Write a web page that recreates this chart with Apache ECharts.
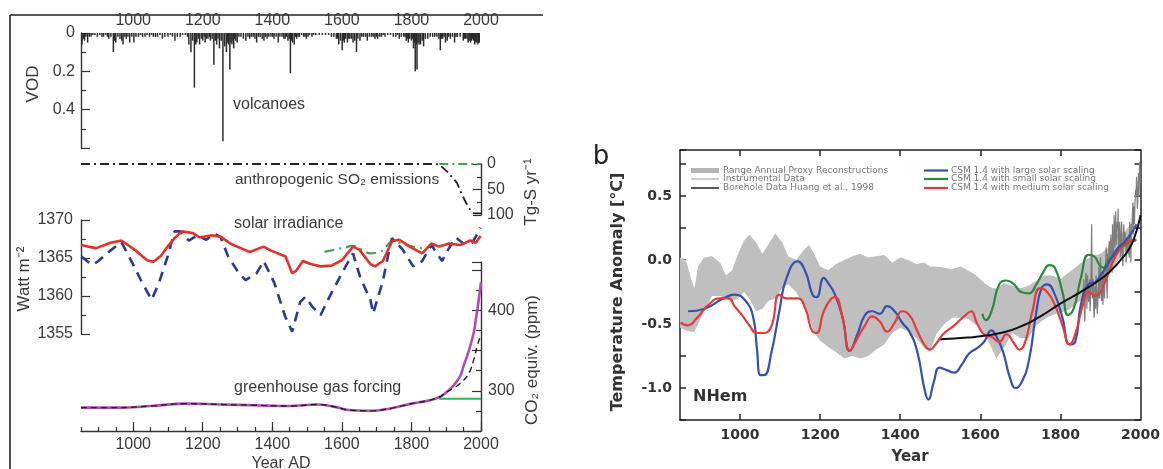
<!DOCTYPE html>
<html><head><meta charset="utf-8">
<script src="https://cdn.jsdelivr.net/npm/echarts@6.0.0/dist/echarts.min.js"></script>
<style>html,body{margin:0;padding:0;background:#fff}#c{width:1163px;height:469px}</style>
</head><body><div id="c"></div>
<script>
// ---------- Panel a data ----------
const yearTicks = [1000, 1200, 1400, 1600, 1800, 2000];
const vodTicks = [0, 0.2, 0.4];
const volcanoes = [[853,0.06],[857,0.03],[860,0.04],[864,0.02],[869,0.05],[874,0.02],[879,0.02],[884,0.01],[890,0.01],[897,0.02],[904,0.01],[910,0.02],[915,0.02],[921,0.01],[926,0.02],[930,0.03],[936,0.02],[943,0.10],[947,0.04],[950,0.05],[956,0.02],[962,0.03],[967,0.04],[971,0.06],[976,0.02],[980,0.03],[985,0.02],[990,0.05],[996,0.02],[1002,0.05],[1008,0.02],[1015,0.02],[1021,0.01],[1027,0.02],[1034,0.02],[1040,0.01],[1047,0.02],[1053,0.01],[1058,0.02],[1064,0.02],[1070,0.02],[1077,0.01],[1084,0.03],[1091,0.02],[1100,0.02],[1107,0.01],[1113,0.02],[1120,0.04],[1127,0.02],[1135,0.02],[1142,0.01],[1150,0.01],[1156,0.02],[1160,0.06],[1166,0.10],[1171,0.04],[1176,0.285],[1180,0.06],[1183,0.05],[1187,0.03],[1191,0.06],[1196,0.03],[1200,0.04],[1204,0.02],[1207,0.05],[1211,0.03],[1215,0.03],[1219,0.02],[1222,0.04],[1227,0.03],[1232,0.165],[1236,0.04],[1240,0.06],[1244,0.03],[1248,0.08],[1253,0.04],[1258,0.565],[1263,0.07],[1268,0.10],[1271,0.05],[1274,0.06],[1278,0.19],[1281,0.05],[1284,0.06],[1287,0.04],[1289,0.08],[1292,0.03],[1295,0.04],[1299,0.05],[1304,0.02],[1310,0.02],[1317,0.03],[1324,0.04],[1330,0.02],[1335,0.03],[1340,0.02],[1345,0.02],[1350,0.03],[1355,0.05],[1360,0.02],[1365,0.02],[1371,0.03],[1376,0.04],[1380,0.02],[1385,0.03],[1390,0.02],[1396,0.02],[1401,0.02],[1405,0.03],[1411,0.02],[1417,0.05],[1422,0.02],[1428,0.02],[1433,0.03],[1437,0.03],[1441,0.02],[1445,0.04],[1449,0.03],[1452,0.21],[1455,0.04],[1458,0.05],[1463,0.06],[1467,0.02],[1470,0.03],[1474,0.02],[1478,0.02],[1484,0.01],[1490,0.02],[1494,0.02],[1498,0.03],[1503,0.02],[1507,0.01],[1514,0.02],[1519,0.01],[1525,0.01],[1535,0.01],[1544,0.01],[1553,0.01],[1562,0.01],[1570,0.02],[1577,0.02],[1584,0.03],[1588,0.03],[1591,0.06],[1596,0.04],[1601,0.09],[1604,0.04],[1607,0.05],[1611,0.03],[1616,0.05],[1620,0.03],[1623,0.03],[1628,0.03],[1632,0.05],[1637,0.04],[1642,0.10],[1646,0.03],[1652,0.04],[1657,0.02],[1662,0.02],[1668,0.02],[1673,0.04],[1679,0.02],[1685,0.02],[1690,0.02],[1695,0.03],[1699,0.02],[1703,0.03],[1709,0.02],[1714,0.02],[1719,0.01],[1724,0.02],[1732,0.01],[1740,0.01],[1748,0.02],[1755,0.02],[1760,0.01],[1765,0.03],[1771,0.02],[1778,0.02],[1782,0.02],[1785,0.04],[1788,0.03],[1791,0.05],[1795,0.03],[1800,0.04],[1803,0.03],[1806,0.08],[1809,0.05],[1811,0.20],[1814,0.06],[1816,0.19],[1819,0.05],[1822,0.06],[1826,0.06],[1831,0.04],[1835,0.07],[1840,0.03],[1847,0.03],[1854,0.02],[1861,0.02],[1867,0.02],[1873,0.02],[1879,0.03],[1883,0.09],[1886,0.03],[1890,0.03],[1894,0.02],[1898,0.05],[1903,0.04],[1907,0.02],[1912,0.03],[1918,0.02],[1924,0.05],[1928,0.02],[1932,0.02],[1940,0.02],[1949,0.04],[1953,0.03],[1956,0.03],[1960,0.03],[1963,0.05],[1966,0.04],[1970,0.05],[1973,0.04],[1976,0.03],[1979,0.04],[1982,0.06],[1985,0.05],[1988,0.05],[1991,0.06],[1993,0.05],[1995,0.05]];
const so2Ticks = [0, 50, 100];
const so2Anthro = [[850,0],[1870,0],[1880,1],[1903,15],[1931,37],[1946,61],[1960,80],[1971,92],[1980,97],[2000,97]];
const so2Natural = [[1880,0],[2000,0]];
const solarTicks = [1355, 1360, 1365, 1370];
const solarRed = [[851,1366.7],[870,1366.5],[894,1366.3],[935,1367.0],[966,1367.3],[1007,1366.0],[1040,1364.7],[1058,1364.5],[1080,1365.3],[1099,1366.5],[1119,1367.6],[1140,1368.5],[1171,1368.3],[1191,1367.7],[1225,1368.0],[1252,1367.8],[1283,1366.8],[1335,1365.8],[1375,1366.5],[1395,1366.0],[1438,1365.2],[1457,1363.0],[1468,1363.3],[1488,1364.6],[1510,1364.2],[1539,1363.9],[1570,1364.0],[1600,1364.7],[1632,1366.5],[1650,1366.1],[1682,1364.2],[1695,1363.9],[1718,1364.6],[1744,1367.2],[1765,1367.4],[1795,1366.5],[1831,1365.6],[1857,1366.9],[1880,1366.5],[1908,1366.9],[1940,1366.7],[1969,1367.3],[1985,1367.0],[1999,1367.9]];
const solarBlue = [[851,1365.2],[870,1364.5],[884,1364.1],[900,1364.6],[935,1366.0],[966,1367.1],[996,1364.5],[1022,1362.1],[1053,1359.5],[1074,1361.7],[1099,1365.2],[1119,1368.5],[1135,1368.5],[1160,1367.3],[1185,1368.0],[1210,1367.4],[1235,1368.2],[1252,1367.7],[1273,1365.2],[1304,1363.0],[1323,1362.1],[1355,1363.0],[1375,1364.6],[1406,1361.7],[1437,1357.3],[1457,1355.3],[1480,1359.2],[1495,1359.9],[1515,1358.6],[1539,1357.5],[1560,1359.5],[1600,1363.0],[1632,1365.6],[1653,1362.4],[1682,1359.5],[1690,1357.7],[1718,1362.0],[1734,1365.6],[1744,1367.6],[1775,1366.1],[1805,1363.9],[1831,1364.6],[1857,1366.7],[1888,1364.6],[1908,1366.3],[1928,1367.7],[1949,1366.9],[1975,1367.0],[1999,1369.0]];
const solarGreen = [[1550,1365.8],[1600,1366.3],[1632,1366.6],[1682,1365.6],[1718,1366.0],[1744,1367.2],[1795,1366.6],[1830,1366.3],[1857,1366.5],[1875,1366.8]];
const co2Ticks = [300, 400];
const ghgTotal = [[850,279],[950,279],[1050,281],[1150,284],[1250,283],[1350,282],[1450,281],[1530,283],[1580,280],[1620,276],[1680,275],[1740,278],[1800,284],[1850,288],[1880,292],[1900,298],[1920,306],[1940,318],[1950,331],[1960,343],[1970,357],[1980,374],[1985,388],[1990,402],[2000,435]];
const ghgCO2 = [[850,279],[950,279],[1050,281],[1150,284],[1250,283],[1350,282],[1450,281],[1530,283],[1580,280],[1620,276],[1680,275],[1740,278],[1800,284],[1850,288],[1880,292],[1900,298],[1920,303],[1940,309],[1960,318],[1970,326],[1980,340],[1990,357],[2000,370]];
const ghgConst = [[1880,290],[2000,290]];

// ---------- Panel b data ----------
const tempTicks = [-1.0, -0.5, 0.0, 0.5];
const yearTicksB = [1000, 1200, 1400, 1600, 1800, 2000];
const bandYears = [850,865,878,886,895,910,930,950,965,980,995,1010,1023,1040,1056,1070,1088,1105,1120,1140,1160,1172,1185,1200,1220,1240,1260,1280,1300,1320,1340,1360,1380,1400,1420,1440,1460,1475,1490,1510,1530,1550,1570,1590,1610,1630,1640,1660,1680,1700,1720,1740,1760,1780,1800,1820,1840,1860,1880,1900,1920,1940,1960,1980];
const bandHigh = [0.02,0.0,-0.15,-0.22,-0.05,0.02,0.03,-0.02,-0.12,-0.08,0.05,0.15,0.20,0.14,0.05,0.12,0.21,0.14,0.03,0.0,0.08,0.12,0.05,-0.05,-0.08,-0.03,0.0,0.03,0.05,0.02,0.03,0.04,-0.02,0.02,0.0,-0.03,-0.02,-0.05,-0.05,-0.06,-0.07,-0.05,-0.08,-0.12,-0.18,-0.22,-0.22,-0.18,-0.2,-0.22,-0.2,-0.16,-0.12,-0.12,-0.15,-0.1,-0.05,0.0,0.03,0.05,0.1,0.2,0.22,0.3];
const bandLow = [-0.53,-0.55,-0.56,-0.56,-0.50,-0.40,-0.28,-0.28,-0.30,-0.32,-0.30,-0.25,-0.30,-0.40,-0.38,-0.32,-0.30,-0.22,-0.19,-0.25,-0.36,-0.45,-0.57,-0.63,-0.68,-0.72,-0.77,-0.75,-0.77,-0.75,-0.70,-0.66,-0.57,-0.53,-0.56,-0.61,-0.69,-0.71,-0.58,-0.50,-0.45,-0.45,-0.46,-0.51,-0.57,-0.70,-0.77,-0.68,-0.57,-0.61,-0.61,-0.51,-0.46,-0.43,-0.41,-0.39,-0.34,-0.30,-0.26,-0.20,-0.13,-0.02,0.06,0.15];
const instrumental = [[1856,-0.35],[1857,-0.28],[1858,-0.15],[1859,-0.22],[1860,-0.42],[1861,-0.48],[1862,-0.30],[1863,-0.12],[1864,-0.10],[1865,-0.20],[1866,-0.38],[1867,-0.18],[1868,-0.12],[1869,-0.25],[1870,-0.33],[1871,-0.28],[1872,-0.20],[1873,-0.15],[1874,-0.40],[1875,-0.32],[1876,-0.25],[1877,0.05],[1878,0.28],[1879,-0.10],[1880,-0.30],[1881,-0.22],[1882,-0.15],[1883,-0.35],[1884,-0.45],[1885,-0.40],[1886,-0.20],[1887,-0.30],[1888,-0.38],[1889,-0.12],[1890,-0.18],[1891,-0.28],[1892,-0.42],[1893,-0.35],[1894,-0.22],[1895,-0.30],[1896,-0.05],[1897,-0.12],[1898,-0.30],[1899,-0.10],[1900,0.02],[1901,-0.08],[1902,-0.28],[1903,-0.32],[1904,-0.10],[1905,-0.20],[1906,-0.35],[1907,-0.25],[1908,-0.05],[1909,-0.22],[1910,-0.30],[1911,-0.18],[1912,-0.08],[1913,-0.02],[1914,0.10],[1915,0.05],[1916,-0.22],[1917,-0.30],[1918,0.05],[1919,-0.05],[1920,-0.12],[1921,0.10],[1922,0.15],[1923,0.02],[1924,-0.05],[1925,0.12],[1926,0.20],[1927,0.08],[1928,0.02],[1929,-0.10],[1930,0.28],[1931,0.18],[1932,0.05],[1933,-0.02],[1934,0.35],[1935,0.15],[1936,0.10],[1937,0.25],[1938,0.38],[1939,0.20],[1940,0.12],[1941,0.22],[1942,0.30],[1943,0.25],[1944,0.40],[1945,0.18],[1946,0.08],[1947,0.20],[1948,0.30],[1949,0.12],[1950,0.02],[1951,0.15],[1952,0.25],[1953,0.30],[1954,0.05],[1955,0.02],[1956,-0.05],[1957,0.12],[1958,0.28],[1959,0.20],[1960,0.10],[1961,0.22],[1962,0.22],[1963,0.15],[1964,-0.02],[1965,0.02],[1966,0.18],[1967,0.12],[1968,0.05],[1969,0.15],[1970,0.20],[1971,0.05],[1972,0.02],[1973,0.30],[1974,0.12],[1975,0.15],[1976,-0.02],[1977,0.28],[1978,0.25],[1979,0.30],[1980,0.38],[1981,0.45],[1982,0.20],[1983,0.42],[1984,0.35],[1985,0.28],[1986,0.45],[1987,0.48],[1988,0.55],[1989,0.50],[1990,0.65],[1991,0.58],[1992,0.40],[1993,0.45],[1994,0.55],[1995,0.68],[1996,0.50],[1997,0.62],[1998,0.77],[1999,0.65],[2000,0.60]];
const borehole = [[1500,-0.62],[1550,-0.61],[1600,-0.595],[1650,-0.57],[1700,-0.52],[1750,-0.44],[1800,-0.34],[1850,-0.25],[1900,-0.15],[1930,-0.07],[1950,0.0],[1970,0.08],[1985,0.18],[2000,0.35]];
const csmLarge = [[870,-0.40],[912,-0.38],[958,-0.30],[986,-0.27],[1014,-0.32],[1033,-0.45],[1042,-0.69],[1051,-0.90],[1060,-0.90],[1079,-0.71],[1098,-0.40],[1116,-0.14],[1144,-0.01],[1163,-0.09],[1181,-0.27],[1191,-0.29],[1209,-0.14],[1220,-0.18],[1237,-0.27],[1256,-0.45],[1274,-0.71],[1293,-0.58],[1312,-0.43],[1330,-0.40],[1349,-0.42],[1367,-0.36],[1386,-0.40],[1405,-0.49],[1423,-0.56],[1442,-0.71],[1460,-1.0],[1470,-1.09],[1484,-0.95],[1498,-0.84],[1516,-0.86],[1535,-0.88],[1553,-0.82],[1572,-0.73],[1591,-0.69],[1609,-0.64],[1628,-0.55],[1637,-0.58],[1656,-0.71],[1674,-0.92],[1688,-1.0],[1702,-0.96],[1721,-0.79],[1740,-0.40],[1753,-0.22],[1767,-0.19],[1786,-0.27],[1805,-0.45],[1823,-0.66],[1837,-0.64],[1851,-0.35],[1870,-0.19],[1888,-0.17],[1900,-0.12],[1915,-0.05],[1930,0.03],[1945,0.10],[1960,0.14],[1975,0.20],[1990,0.28]];
const csmSmall = [[1605,-0.42],[1614,-0.47],[1628,-0.40],[1647,-0.19],[1665,-0.16],[1684,-0.19],[1702,-0.25],[1721,-0.26],[1740,-0.19],[1758,-0.09],[1772,-0.04],[1786,-0.06],[1805,-0.25],[1819,-0.43],[1833,-0.38],[1851,-0.14],[1870,0.04],[1884,0.03],[1898,-0.04],[1907,-0.06],[1920,0.0],[1935,0.04],[1950,0.10],[1965,0.13],[1980,0.15],[1990,0.16]];
const csmMedium = [[851,-0.49],[870,-0.51],[893,-0.45],[921,-0.35],[949,-0.30],[972,-0.30],[986,-0.36],[1005,-0.43],[1023,-0.51],[1042,-0.57],[1060,-0.57],[1079,-0.51],[1098,-0.27],[1116,-0.30],[1144,-0.30],[1163,-0.38],[1181,-0.56],[1191,-0.57],[1209,-0.40],[1228,-0.30],[1237,-0.29],[1256,-0.45],[1274,-0.71],[1293,-0.61],[1312,-0.51],[1330,-0.44],[1349,-0.48],[1367,-0.56],[1386,-0.49],[1405,-0.40],[1423,-0.43],[1442,-0.55],[1460,-0.66],[1474,-0.70],[1488,-0.66],[1507,-0.58],[1535,-0.51],[1563,-0.43],[1577,-0.40],[1591,-0.49],[1609,-0.58],[1628,-0.60],[1647,-0.64],[1665,-0.58],[1684,-0.65],[1698,-0.70],[1712,-0.64],[1730,-0.40],[1749,-0.22],[1767,-0.25],[1786,-0.35],[1805,-0.51],[1823,-0.66],[1837,-0.58],[1856,-0.35],[1870,-0.25],[1888,-0.28],[1900,-0.25],[1915,-0.14],[1930,-0.02],[1945,0.07],[1960,0.12],[1975,0.15],[1988,0.15]];

// ---------- chart ----------
const FA = '"Liberation Sans",Arial,sans-serif';
const FS = 16;
const FB = '"DejaVu Sans",sans-serif';
const AX = '#333';
const TC = '#3a3a3a';
const chart = echarts.init(document.getElementById('c'), null, {renderer: 'canvas'});
const noSym = {showSymbol: false, symbol: 'none'};
const plain = v => String(v);

const bandSeriesData = bandYears.map((y, i) => [y, bandLow[i], bandHigh[i]]);

const option = {
  animation: false,
  grid: [
    {left: 81, width: 400, top: 33, height: 115},
    {left: 81, width: 400, top: 164, height: 51},
    {left: 81, width: 400, top: 220, height: 114},
    {left: 81, width: 400, top: 262, height: 169},
    {left: 680, width: 461, top: 150, height: 270}
  ],
  xAxis: [
    {gridIndex: 0, type: 'value', position: 'top', min: 850, max: 2000, interval: 50, splitLine: {show: false},
      axisLine: {show: false}, axisTick: {show: false},
      axisLabel: {customValues: yearTicks, margin: 4, fontFamily: FA, fontSize: FS, color: TC, formatter: plain}},
    {gridIndex: 1, type: 'value', min: 850, max: 2000, show: false},
    {gridIndex: 2, type: 'value', min: 850, max: 2000, show: false},
    {gridIndex: 3, type: 'value', position: 'bottom', min: 850, max: 2000, interval: 50, splitLine: {show: false},
      axisLine: {show: true, lineStyle: {color: AX, width: 1.4}},
      axisTick: {show: true, inside: true, length: 4, lineStyle: {color: AX, width: 1.2}},
      axisLabel: {customValues: yearTicks, margin: 6, fontFamily: FA, fontSize: FS, color: TC, formatter: plain}},
    {gridIndex: 3, type: 'value', position: 'bottom', min: 850, max: 2000, splitLine: {show: false},
      axisLine: {show: false}, axisLabel: {show: false},
      axisTick: {show: true, inside: true, length: 9, customValues: yearTicks, lineStyle: {color: AX, width: 1.2}}},
    {gridIndex: 4, type: 'value', position: 'bottom', min: 850, max: 2000, splitLine: {show: false},
      axisLine: {show: true, onZero: false, lineStyle: {color: '#222', width: 1.5}},
      axisTick: {show: true, inside: true, length: 6, customValues: [1000, 1200, 1400, 1600, 1800], lineStyle: {color: '#222', width: 1.5}},
      axisLabel: {customValues: yearTicksB, margin: 8, fontFamily: FB, fontWeight: 'bold', fontSize: 14, color: '#333', formatter: plain}},
    {gridIndex: 4, type: 'value', position: 'top', min: 850, max: 2000, splitLine: {show: false},
      axisLine: {show: true, onZero: false, lineStyle: {color: '#222', width: 1.5}},
      axisTick: {show: true, inside: true, length: 6, customValues: [1000, 1200, 1400, 1600, 1800], lineStyle: {color: '#222', width: 1.5}},
      axisLabel: {show: false}}
  ],
  yAxis: [
    {gridIndex: 0, type: 'value', inverse: true, min: 0, max: 0.6, interval: 0.2, splitLine: {show: false},
      axisLine: {show: true, lineStyle: {color: AX, width: 1.4}},
      axisTick: {show: true, inside: true, length: 9, lineStyle: {color: AX, width: 1.2}},
      minorTick: {show: true, splitNumber: 2, length: 5, lineStyle: {color: AX, width: 1.2}},
      axisLabel: {customValues: vodTicks, margin: 6, fontFamily: FA, fontSize: FS, color: TC, formatter: v => v === 0 ? '0' : v.toFixed(1)}},
    {gridIndex: 1, type: 'value', inverse: true, position: 'right', min: 0, max: 100, interval: 50, splitLine: {show: false},
      axisLine: {show: true, lineStyle: {color: AX, width: 1.4}},
      axisTick: {show: true, inside: true, length: 8, lineStyle: {color: AX, width: 1.2}},
      minorTick: {show: true, splitNumber: 2, length: 4, lineStyle: {color: AX, width: 1.2}},
      axisLabel: {customValues: so2Ticks, margin: 6, fontFamily: FA, fontSize: FS, color: TC, formatter: plain}},
    {gridIndex: 2, type: 'value', position: 'left', min: 1355, max: 1370, interval: 5, splitLine: {show: false},
      axisLine: {show: true, lineStyle: {color: AX, width: 1.4}},
      axisTick: {show: true, inside: true, length: 9, lineStyle: {color: AX, width: 1.2}},
      minorTick: {show: true, splitNumber: 2, length: 5, lineStyle: {color: AX, width: 1.2}},
      axisLabel: {customValues: solarTicks, margin: 8, fontFamily: FA, fontSize: FS, color: TC, formatter: plain}},
    {gridIndex: 3, type: 'value', position: 'right', min: 250, max: 460, interval: 50, splitLine: {show: false},
      axisLine: {show: true, lineStyle: {color: AX, width: 1.4}},
      axisTick: {show: true, inside: true, length: 9, lineStyle: {color: AX, width: 1.2}},
      minorTick: {show: true, splitNumber: 2, length: 5, lineStyle: {color: AX, width: 1.2}},
      axisLabel: {customValues: co2Ticks, margin: 7, fontFamily: FA, fontSize: FS, color: TC, formatter: plain}},
    {gridIndex: 4, type: 'value', position: 'left', min: -1.25, max: 0.86, interval: 0.25, splitLine: {show: false},
      axisLine: {show: true, onZero: false, lineStyle: {color: '#222', width: 1.5}},
      axisTick: {show: true, inside: true, length: 6, lineStyle: {color: '#222', width: 1.5}},
      axisLabel: {customValues: tempTicks, margin: 8, fontFamily: FB, fontWeight: 'bold', fontSize: 14, color: '#333', formatter: v => v.toFixed(1)}},
    {gridIndex: 4, type: 'value', position: 'right', min: -1.25, max: 0.86, interval: 0.25, splitLine: {show: false},
      axisLine: {show: true, onZero: false, lineStyle: {color: '#222', width: 1.5}},
      axisTick: {show: true, inside: true, length: 6, lineStyle: {color: '#222', width: 1.5}},
      axisLabel: {show: false}}
  ],
  series: [
    {name: 'volcanoes', type: 'bar', xAxisIndex: 0, yAxisIndex: 0, data: volcanoes, barWidth: 1.5, itemStyle: {color: '#2b2b2b'}},
    {name: 'so2', type: 'line', xAxisIndex: 1, yAxisIndex: 1, data: so2Anthro, ...noSym, lineStyle: {color: '#222', width: 1.8, type: [9, 4, 2, 4]}},
    {name: 'so2nat', type: 'line', xAxisIndex: 1, yAxisIndex: 1, data: so2Natural, ...noSym, lineStyle: {color: '#3aa655', width: 1.8, type: [9, 4, 2, 4]}},
    {name: 'solarGreen', type: 'line', xAxisIndex: 2, yAxisIndex: 2, data: solarGreen, ...noSym, smooth: 0.3, lineStyle: {color: '#3aa655', width: 2.2, type: [10, 5, 2, 5]}},
    {name: 'solarBlue', type: 'line', xAxisIndex: 2, yAxisIndex: 2, data: solarBlue, ...noSym, lineStyle: {color: '#2b3a94', width: 2.6, type: [10, 7]}},
    {name: 'solarRed', type: 'line', xAxisIndex: 2, yAxisIndex: 2, data: solarRed, ...noSym, lineStyle: {color: '#e8302a', width: 2.6}},
    {name: 'ghgConst', type: 'line', xAxisIndex: 3, yAxisIndex: 3, data: ghgConst, ...noSym, lineStyle: {color: '#3cb054', width: 2}},
    {name: 'ghgTotal', type: 'line', xAxisIndex: 3, yAxisIndex: 3, data: ghgTotal, ...noSym, smooth: 0.4, lineStyle: {color: '#b04cb4', width: 2.6}},
    {name: 'ghgCO2', type: 'line', xAxisIndex: 3, yAxisIndex: 3, data: ghgCO2, ...noSym, smooth: 0.4, lineStyle: {color: '#222', width: 1.4, type: [6, 4]}},
    {name: 'band', type: 'custom', xAxisIndex: 5, yAxisIndex: 4, data: bandSeriesData,
      renderItem: (params, api) => {
        if (params.dataIndex !== 0) return null;
        const pts = [];
        for (let i = 0; i < bandYears.length; i++) pts.push(api.coord([bandYears[i], bandHigh[i]]));
        for (let i = bandYears.length - 1; i >= 0; i--) pts.push(api.coord([bandYears[i], bandLow[i]]));
        return {type: 'polygon', shape: {points: pts}, style: {fill: '#bfbfbf'}};
      }},
    {name: 'instrumental', type: 'line', xAxisIndex: 5, yAxisIndex: 4, data: instrumental, ...noSym, lineStyle: {color: '#7d7d7d', width: 1.2}},
    {name: 'csmSmall', type: 'line', xAxisIndex: 5, yAxisIndex: 4, data: csmSmall, ...noSym, smooth: 0.5, lineStyle: {color: '#2a8a3c', width: 2.2}},
    {name: 'csmLarge', type: 'line', xAxisIndex: 5, yAxisIndex: 4, data: csmLarge, ...noSym, smooth: 0.5, lineStyle: {color: '#3550b0', width: 2.2}},
    {name: 'csmMedium', type: 'line', xAxisIndex: 5, yAxisIndex: 4, data: csmMedium, ...noSym, smooth: 0.5, lineStyle: {color: '#e83a3a', width: 2.2}},
    {name: 'borehole', type: 'line', xAxisIndex: 5, yAxisIndex: 4, data: borehole, ...noSym, smooth: 0.6, lineStyle: {color: '#111', width: 2}}
  ],
  graphic: [
    {type: 'line', shape: {x1: 10, y1: 15, x2: 10, y2: 469}, style: {stroke: '#222', lineWidth: 1.6}},
    {type: 'line', shape: {x1: 10, y1: 15, x2: 543, y2: 15}, style: {stroke: '#222', lineWidth: 1.6}},
    {type: 'text', x: 233, y: 105, style: {text: 'volcanoes', fontFamily: FA, fontSize: FS, fill: TC, verticalAlign: 'middle'}},
    {type: 'text', x: 235, y: 180, style: {text: 'anthropogenic SO₂ emissions', fontFamily: FA, fontSize: 15.5, fill: TC, verticalAlign: 'middle'}},
    {type: 'text', x: 234, y: 224, style: {text: 'solar irradiance', fontFamily: FA, fontSize: FS, fill: TC, verticalAlign: 'middle'}},
    {type: 'text', x: 234, y: 388, style: {text: 'greenhouse gas forcing', fontFamily: FA, fontSize: FS, fill: TC, verticalAlign: 'middle'}},
    {type: 'text', x: 281, y: 464, style: {text: 'Year AD', fontFamily: FA, fontSize: FS, fill: TC, align: 'center', verticalAlign: 'middle'}},
    {type: 'text', x: 33, y: 84, rotation: Math.PI / 2, style: {text: 'VOD', fontFamily: FA, fontSize: FS + 1, fill: TC, align: 'center', verticalAlign: 'middle'}},
    {type: 'text', x: 24, y: 279, rotation: Math.PI / 2, style: {text: 'Watt m⁻²', fontFamily: FA, fontSize: FS + 1, fill: TC, align: 'center', verticalAlign: 'middle'}},
    {type: 'text', x: 531, y: 192, rotation: Math.PI / 2, style: {text: 'Tg-S yr⁻¹', fontFamily: FA, fontSize: FS + 1, fill: TC, align: 'center', verticalAlign: 'middle'}},
    {type: 'text', x: 532, y: 360, rotation: Math.PI / 2, style: {text: 'CO₂ equiv. (ppm)', fontFamily: FA, fontSize: FS + 1, fill: TC, align: 'center', verticalAlign: 'middle'}},
    // panel b texts
    {type: 'text', x: 601, y: 157, style: {text: 'b', fontFamily: FB, fontSize: 26, fill: '#222', align: 'center', verticalAlign: 'middle'}},
    {type: 'text', x: 618, y: 292, rotation: Math.PI / 2, style: {text: 'Temperature Anomaly [°C]', fontFamily: FB, fontWeight: 'bold', fontSize: 16, fill: '#333', align: 'center', verticalAlign: 'middle'}},
    {type: 'text', x: 910, y: 457, style: {text: 'Year', fontFamily: FB, fontWeight: 'bold', fontSize: 15, fill: '#333', align: 'center', verticalAlign: 'middle'}},
    {type: 'text', x: 693, y: 397, style: {text: 'NHem', fontFamily: FB, fontWeight: 'bold', fontSize: 16, fill: '#333', verticalAlign: 'middle'}},
    // legend
    {type: 'rect', shape: {x: 691, y: 168, width: 28, height: 5}, style: {fill: '#b5b5b5'}},
    {type: 'line', shape: {x1: 691, y1: 179, x2: 719, y2: 179}, style: {stroke: '#999', lineWidth: 1}},
    {type: 'line', shape: {x1: 691, y1: 188, x2: 719, y2: 188}, style: {stroke: '#333', lineWidth: 1.6}},
    {type: 'text', x: 723, y: 170.5, style: {text: 'Range Annual Proxy Reconstructions', fontFamily: FB, fontSize: 9, fill: '#777', verticalAlign: 'middle'}},
    {type: 'text', x: 723, y: 179, style: {text: 'Instrumental Data', fontFamily: FB, fontSize: 9, fill: '#777', verticalAlign: 'middle'}},
    {type: 'text', x: 723, y: 188, style: {text: 'Borehole Data Huang et al., 1998', fontFamily: FB, fontSize: 9, fill: '#777', verticalAlign: 'middle'}},
    {type: 'line', shape: {x1: 924, y1: 170.5, x2: 948, y2: 170.5}, style: {stroke: '#3550b0', lineWidth: 2.2}},
    {type: 'line', shape: {x1: 924, y1: 179, x2: 948, y2: 179}, style: {stroke: '#2a8a3c', lineWidth: 2.2}},
    {type: 'line', shape: {x1: 924, y1: 188, x2: 948, y2: 188}, style: {stroke: '#e83a3a', lineWidth: 2.2}},
    {type: 'text', x: 951, y: 170.5, style: {text: 'CSM 1.4 with large solar scaling', fontFamily: FB, fontSize: 9, fill: '#777', verticalAlign: 'middle'}},
    {type: 'text', x: 951, y: 179, style: {text: 'CSM 1.4 with small solar scaling', fontFamily: FB, fontSize: 9, fill: '#777', verticalAlign: 'middle'}},
    {type: 'text', x: 951, y: 188, style: {text: 'CSM 1.4 with medium solar scaling', fontFamily: FB, fontSize: 9, fill: '#777', verticalAlign: 'middle'}}
  ]
};
chart.setOption(option);
</script>
</body></html>
